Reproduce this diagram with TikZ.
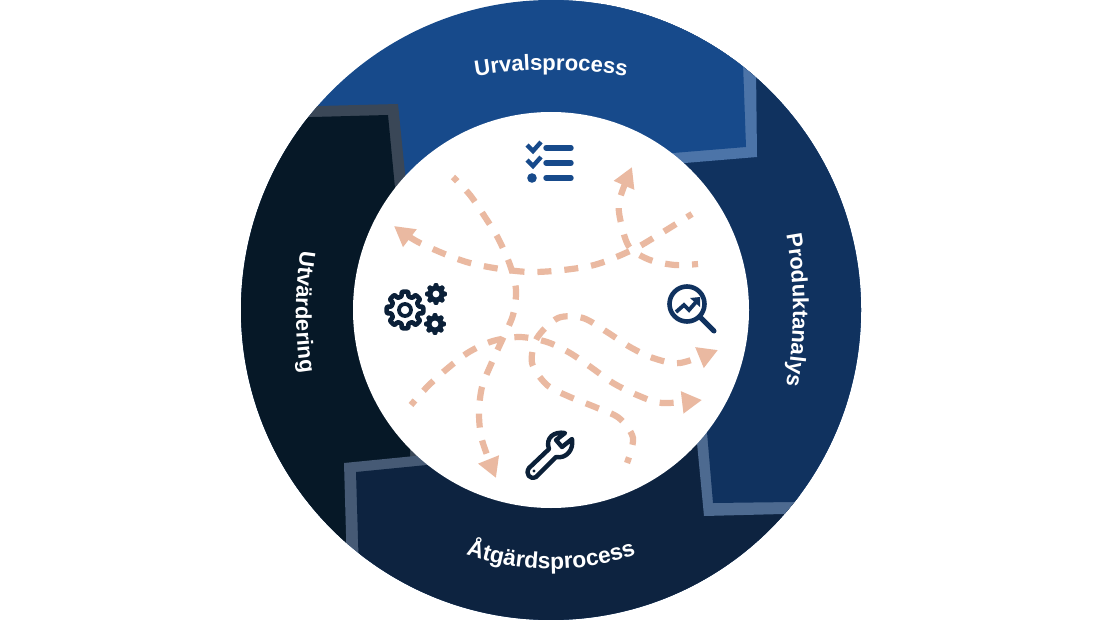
\documentclass[tikz,border=0pt]{standalone}
\usepackage{fontspec}
\setmainfont{Liberation Sans}
\usetikzlibrary{arrows.meta,decorations.text}
\definecolor{UrvalBlue}{HTML}{174A8B}
\definecolor{UrvalBand}{HTML}{4C74A8}
\definecolor{ProduktBlue}{HTML}{10325F}
\definecolor{ProduktBand}{HTML}{4D6A90}
\definecolor{AtgardBlue}{HTML}{0D2340}
\definecolor{AtgardBand}{HTML}{465A75}
\definecolor{UtvarderingBlue}{HTML}{061827}
\definecolor{UtvarderingBand}{HTML}{3A4757}
\definecolor{Peach}{HTML}{EAB9A1}
\definecolor{IconDark}{HTML}{0B2038}
\tikzset{
    trail/.style={Peach, line width=6.2pt, dash pattern=on 14pt off 13pt, dash phase=8pt,
        -{Triangle[length=20pt, width=21pt]}},
    bar/.style={UrvalBlue, line width=5.4pt, line cap=round},
    tick/.style={UrvalBlue, line width=4.4pt},
    ringlabel/.style 2 args={decorate, decoration={text along path, text align=center,
        text={|\fontsize{#1}{#1}\selectfont\bfseries\color{white}|#2}}},
}
\NewDocumentCommand{\GearIcon}{O{(0,0)} m m}{
    \begin{scope}[shift={#1}]
    \draw[IconDark, rounded corners=0.8pt, line join=round, #3] (-14:#2*0.76)
        \foreach \a in {0,45,...,315} {
            -- ({\a-14}:#2*0.76) -- ({\a-10}:#2) -- ({\a+10}:#2) -- ({\a+14}:#2*0.76)
        } -- cycle;
    \end{scope}
}
\begin{document}
\begin{tikzpicture}[x=1pt, y=-1pt]
\useasboundingbox (0,0) rectangle (1102,620);
\fill[white] (0,0) rectangle (1102,620);

\begin{scope}
\clip (551,310) circle (310);
\fill[UrvalBlue] (200,-20) rectangle (900,640);
% left panel
\fill[UtvarderingBand] (200,109) -- (398,104) -- (405,173) -- (420,310) -- (420,500) -- (200,640) -- cycle;
\fill[UtvarderingBlue] (200,120) -- (388,115) -- (395,188) -- (410,330) -- (410,500) -- (200,640) -- cycle;
% bottom panel
\fill[AtgardBand] (344,463) -- (415,456) -- (445,453) -- (445,470) -- (600,470) -- (600,430) -- (800,430) -- (800,640) -- (349,640) -- cycle;
\fill[AtgardBlue] (356,472) -- (427,465) -- (445,463) -- (445,470) -- (600,470) -- (600,430) -- (800,430) -- (800,640) -- (361,640) -- cycle;
% right panel
\fill[ProduktBand] (900,511) -- (900,-20) -- (600,-20) -- (600,300) -- (690,370) -- (697,443) -- (704,516) -- (783,514) -- cycle;
\fill[ProduktBlue] (900,500) -- (900,-20) -- (600,-20) -- (600,300) -- (702,370) -- (707,432) -- (713,503) -- (793,502) -- cycle;
% top panel again
\fill[UrvalBand] (755,-20) -- (757,157) -- (685,163) -- (540,175) -- (540,-20) -- cycle;
\fill[UrvalBlue] (740,-20) -- (746,147) -- (673,153) -- (540,165) -- (540,-20) -- cycle;
\end{scope}
\fill[white] (551,310) circle (198);

\path[ringlabel={22}{Urvalsprocess}] (551,520) ++(250:450) arc[start angle=250, end angle=290, radius=450];
\path[ringlabel={22}{Produktanalys}] (373,310) ++(-16:420) arc[start angle=-16, end angle=16, radius=420];
\path[ringlabel={22.8}{Åtgärdsprocess}] (551,310) ++(135:259) arc[start angle=135, end angle=45, radius=259];
\path[ringlabel={22}{Utvärdering}] (696,312) ++(196:400) arc[start angle=196, end angle=164, radius=400];

% dashed trails
\draw[trail] plot[smooth] coordinates {(692,214) (655,237) (630,251) (590,266) (530,272) (470,263) (420,243) (394,226)};
\draw[trail] plot[smooth] coordinates {(453,177) (470,195) (485,217) (498,238) (510,265) (516,290) (513,315) (503,338) (492,362) (482,387) (479,413) (482,440) (496,478)};
\draw[trail] plot[smooth] coordinates {(411,405) (428,386) (448,368) (469,352) (493,341) (520,337) (547,342) (570,353) (592,368) (613,383) (637,395) (662,403) (702,400)};
\draw[trail] plot[smooth] coordinates {(698,264) (675,265) (650,260) (630,248) (622,227) (619,202) (632,167)};
\draw[trail] plot[smooth] coordinates {(627,463) (633,438) (619,418) (595,407) (570,397) (547,385) (532,363) (537,338) (558,318) (583,318) (607,332) (630,347) (653,358) (680,363) (718,350)};

% checklist icon
\draw[bar] (546,148) -- (571,148);
\draw[bar] (546,163) -- (571,163);
\draw[bar] (546,178) -- (571,178);
\draw[tick] (527,145) -- (533,151) -- (541,142);
\draw[tick] (527,160) -- (533,166) -- (541,157);
\fill[UrvalBlue] (532,178) circle (4.8);

% gears icon
\GearIcon[(405,310)]{18.5}{line width=4.6pt}
\draw[IconDark, line width=3.8pt] (405,310) circle (6);
\GearIcon[(436,294)]{10.5}{fill=IconDark, line width=1pt}
\fill[white] (436,294) circle (3.4);
\GearIcon[(435,324)]{10.5}{fill=IconDark, line width=1pt}
\fill[white] (435,324) circle (3.4);

% magnifier icon
\draw[ProduktBlue, line width=4.6pt] (687,304) circle (17.5);
\draw[ProduktBlue, line width=5pt, line cap=round] (701,318) -- (714,331);
\draw[ProduktBlue, line width=3.8pt] (676,312) -- (684,305) -- (689,310) -- (696,302);
\fill[ProduktBlue] (690,298) -- (700,297) -- (700,307) -- cycle;

% wrench icon
\draw[IconDark, line width=4.4pt, line join=round] (529,468) -- (549,449) .. controls (545,438) and (554,431) .. (565,433)
    -- (556,440) -- (562,447) -- (572,439) .. controls (574,450) and (566,459) .. (556,457)
    -- (536,477) .. controls (530,480) and (525,474) .. (529,468) -- cycle;
\fill[IconDark] (534,471) circle (1.6);
\end{tikzpicture}
\end{document}
